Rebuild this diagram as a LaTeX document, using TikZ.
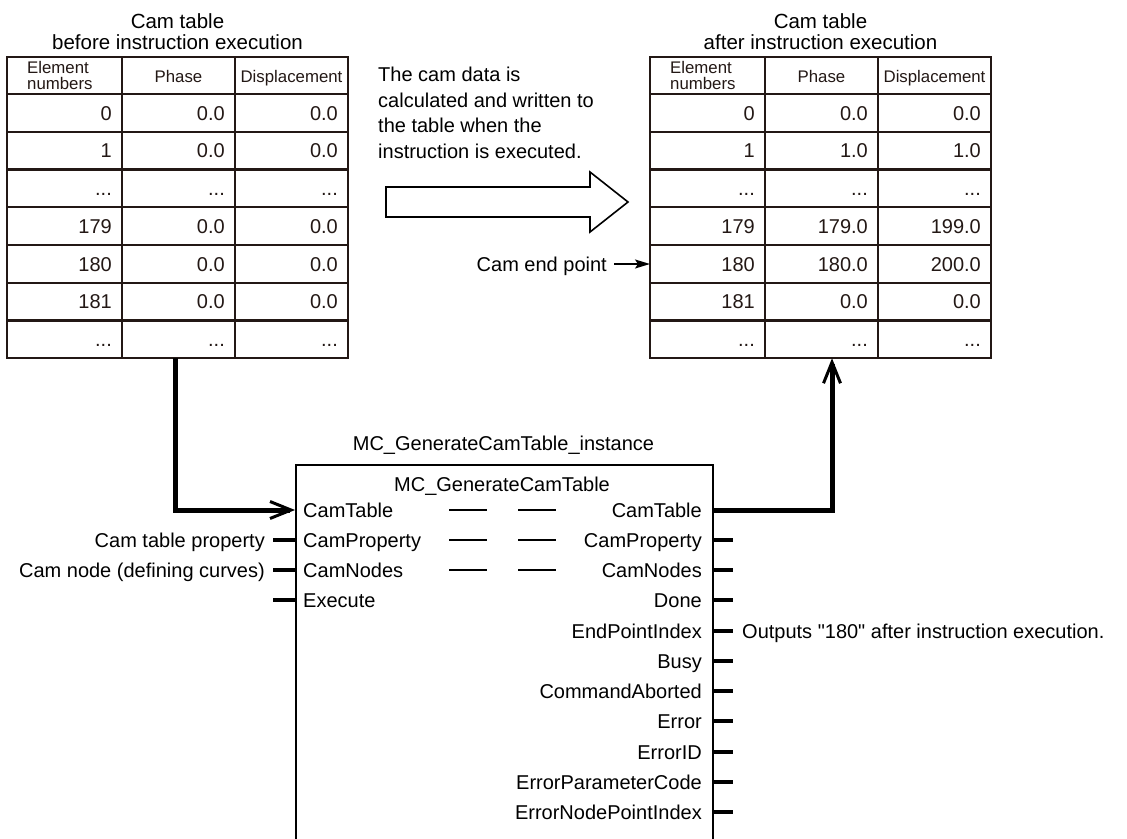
\documentclass[tikz,border=0pt]{standalone}
\usepackage{fontspec}
\setmainfont{Liberation Sans}
\newfontfamily\qfont{Liberation Sans}
\usetikzlibrary{arrows.meta}
\definecolor{tb}{HTML}{231815}
\newcommand\fbig{\fontsize{20}{24}\selectfont}
\newcommand\fhead{\fontsize{16.8}{15.5}\selectfont}
\newcommand\tdots{...}
\newcommand\camtab[3]{%
  \begin{scope}[shift={(#1,0)}]
    \draw[grid] (0,57) rectangle (341,358.25);
    \foreach \yy in {94,131.75,169.5,207.25,245,282.75,320.5}
      \draw[grid] (0,\yy) -- (341,\yy);
    \draw[grid] (115,57) -- (115,358.25);
    \draw[grid] (228,57) -- (228,358.25);
    \node[headtxt, align=left, anchor=south west] (#2-h1) at (20,89.5) {Element\\numbers};
    \node[headtxt, anchor=base] (#2-h2) at (171.5,82) {Phase};
    \node[headtxt, anchor=base] (#2-h3) at (284.5,82) {Displacement};
    \foreach \a/\b/\c [count=\i] in {#3} {
      \pgfmathsetmacro\yb{94+37.75*(\i-0.5)+7.2}
      \node[celltxt] (#2-\i-a) at (105,\yb) {\a};
      \node[celltxt] (#2-\i-b) at (218,\yb) {\b};
      \node[celltxt] (#2-\i-c) at (331,\yb) {\c};
    }
  \end{scope}}
\begin{document}
\begin{tikzpicture}[x=1pt,y=-1pt,
  txt/.style={inner sep=0, font=\fbig},
  grid/.style={draw=tb, line width=2.2},
  celltxt/.style={inner sep=0, font=\fbig, text=tb, anchor=base east},
  headtxt/.style={inner sep=0, font=\fhead, text=tb},
  stub/.style={line width=4.5},
  bus/.style={line width=5},
  dashln/.style={line width=2},
  thinln/.style={line width=1.6},
  barb/.style={-{Straight Barb[length=21,width=17,line width=3]}},
]
\useasboundingbox (0,0) rectangle (1127,838);
\fill[white] (0,0) rectangle (1127,838);
\clip (0,0) rectangle (1127,838);

% titles
\node[txt, align=center, anchor=south, font=\fontsize{20.5}{21}\selectfont] (t1) at (177.5,50) {Cam table\\before instruction execution};
\node[txt, align=center, anchor=south, font=\fontsize{20.5}{21}\selectfont] (t2) at (820.5,50) {Cam table\\after instruction execution};

% tables
\camtab{7}{L}{0/0.0/0.0, 1/0.0/0.0, \tdots/\tdots/\tdots, 179/0.0/0.0, 180/0.0/0.0, 181/0.0/0.0, \tdots/\tdots/\tdots}
\camtab{650}{R}{0/0.0/0.0, 1/1.0/1.0, \tdots/\tdots/\tdots, 179/179.0/199.0, 180/180.0/200.0, 181/0.0/0.0, \tdots/\tdots/\tdots}

% explanation and hollow arrow
\node[txt, align=left, anchor=south west, font=\fontsize{20}{25.7}\selectfont] (expl) at (378,159)
  {The cam data is\\calculated and written to\\the table when the\\instruction is executed.};
\draw[thinln] (386,187) -- (590,187) -- (590,172) -- (628,202) -- (590,232) -- (590,217) -- (386,217) -- cycle;

% cam end point
\node[txt, anchor=base east] (cep) at (607,271) {Cam end point};
\coordinate (ceps) at (614,264);
\coordinate (cept) at (650,264);
\draw[thinln, -{Stealth[length=15,width=9,inset=3]}] (ceps) -- (cept);

% function block
\node[txt, anchor=base] (inst) at (503.5,450) {MC\_GenerateCamTable\_instance};
\node[draw, line width=2, anchor=north west, minimum width=417, minimum height=420, inner sep=0] (fb) at (295,464) {};
\node[txt, anchor=base] (fbname) at (502,491) {MC\_GenerateCamTable};

\foreach \n/\yp [count=\i from 0] in {CamTable/510,CamProperty/540,CamNodes/570,Execute/600} {
  \pgfmathsetmacro\yt{\yp+7.2}
  \node[txt, anchor=base west] (inL\i) at (303,\yt) {\n};
  \coordinate (pinL\i) at (295,\yp);
  \coordinate (stubL\i) at (273,\yp);
}
\foreach \n/\yp [count=\i from 0] in {CamTable/510,CamProperty/540,CamNodes/570,Done/600,EndPointIndex/631,Busy/661,CommandAborted/691,Error/721,ErrorID/752,ErrorParameterCode/782,ErrorNodePointIndex/812} {
  \pgfmathsetmacro\yt{\yp+7.2}
  \node[txt, anchor=base east] (outR\i) at (702,\yt) {\n};
  \coordinate (pinR\i) at (712,\yp);
  \coordinate (stubR\i) at (733,\yp);
}
\foreach \i in {1,2,3} \draw[stub] (stubL\i) -- (pinL\i);
\foreach \i in {1,...,10} \draw[stub] (pinR\i) -- (stubR\i);

% internal dashes
\foreach \yp in {510,540,570} {
  \draw[dashln] (449,\yp) -- (487,\yp);
  \draw[dashln] (518,\yp) -- (556,\yp);
}

% external labels
\node[txt, anchor=base east] (lprop) at (265,547.2) {Cam table property};
\node[txt, anchor=base east] (lnode) at (265,577.2) {Cam node (defining curves)};
\node[txt, anchor=base west, font=\fbig\qfont] (lout) at (742,638.2) {Outputs "180" after instruction execution.};

% buses
\coordinate (ltout) at (175,358.25);
\coordinate (rtin) at (832,358.25);
\draw[bus, barb] (ltout) |- (pinL0);
\draw[bus, barb] (pinR0) -| (rtin);
\end{tikzpicture}
\end{document}
